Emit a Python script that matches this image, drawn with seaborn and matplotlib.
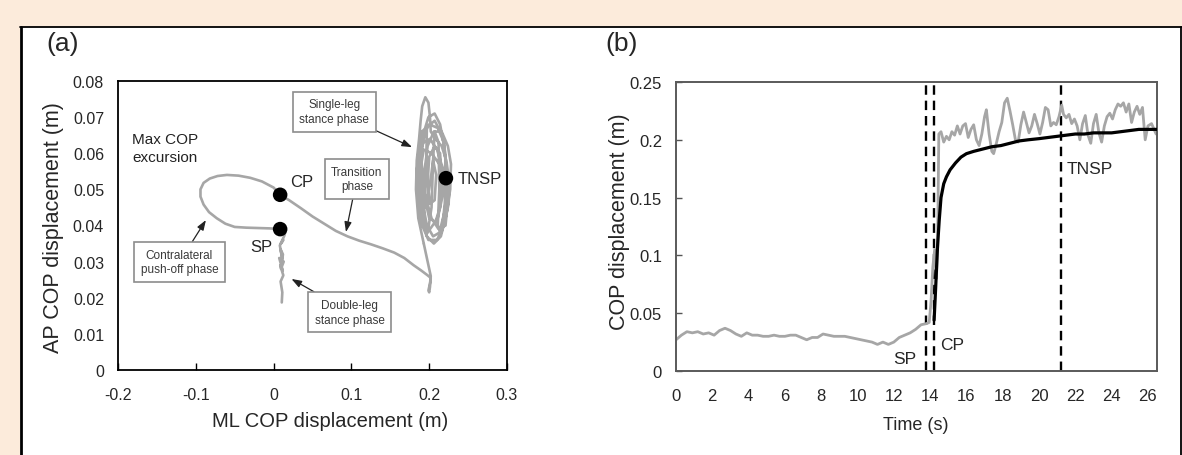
import matplotlib.pyplot as plt
import seaborn as sns
from matplotlib.lines import Line2D
from matplotlib.patches import Rectangle

W, H = 1182, 456
PEACH = "#fcebdb"
GRAY = "#a6a6a6"

# (a) COP path in the ML/AP plane, one array pair per phase
DOUBLE_ML = [0.0105, 0.0112, 0.0090, 0.0125, 0.0085, 0.0118, 0.0072, 0.0130, 0.0095,
             0.0120, 0.0088, 0.0110, 0.0080, 0.0125, 0.0092, 0.0138, 0.0150, 0.0120, 0.0084]
DOUBLE_AP = [0.0187, 0.0215, 0.0245, 0.0262, 0.0290, 0.0275, 0.0310, 0.0300, 0.0280,
             0.0320, 0.0335, 0.0310, 0.0345, 0.0360, 0.0350, 0.0372, 0.0382, 0.0378, 0.0390]

PUSH_ML = [0.0084, -0.005, -0.020, -0.035, -0.050, -0.062, -0.073, -0.083, -0.090, -0.094,
           -0.094, -0.090, -0.082, -0.072, -0.060, -0.045, -0.030, -0.015, 0.000, 0.0084]
PUSH_AP = [0.0390, 0.0392, 0.0393, 0.0394, 0.0396, 0.0405, 0.0420, 0.0437, 0.0458, 0.0480,
           0.0500, 0.0518, 0.0530, 0.0537, 0.0540, 0.0538, 0.0532, 0.0522, 0.0505, 0.0485]

TRANS_ML = [0.0084, 0.020, 0.035, 0.050, 0.065, 0.080, 0.095, 0.110, 0.125, 0.140, 0.155,
            0.168, 0.180, 0.190, 0.198, 0.202, 0.201, 0.199, 0.200, 0.201, 0.202, 0.199,
            0.196, 0.193]
TRANS_AP = [0.0485, 0.0470, 0.0448, 0.0425, 0.0405, 0.0385, 0.0370, 0.0358, 0.0348, 0.0337,
            0.0325, 0.0310, 0.0290, 0.0275, 0.0262, 0.0255, 0.0240, 0.0220, 0.0215, 0.0230,
            0.0260, 0.0290, 0.0320, 0.0350]

SINGLE_ML = [0.193, 0.186, 0.183, 0.184, 0.187, 0.189, 0.191, 0.195, 0.199, 0.201, 0.202,
             0.208, 0.216, 0.222, 0.226, 0.225, 0.219, 0.210, 0.199, 0.191, 0.185,
             0.184, 0.190, 0.197, 0.196, 0.193, 0.198, 0.203, 0.205, 0.207, 0.212, 0.213,
             0.211, 0.216, 0.220, 0.222, 0.219, 0.211, 0.200, 0.190, 0.186, 0.187, 0.192,
             0.201, 0.211, 0.218, 0.221, 0.217, 0.207, 0.196, 0.189, 0.188, 0.190, 0.197,
             0.206, 0.215, 0.222, 0.227, 0.228, 0.224, 0.216, 0.206, 0.198, 0.194, 0.195,
             0.200, 0.208, 0.214, 0.216, 0.214, 0.207, 0.200, 0.198, 0.201, 0.207, 0.209,
             0.205, 0.202, 0.196, 0.188, 0.184, 0.186, 0.193, 0.201, 0.210, 0.220, 0.224,
             0.221, 0.212, 0.203, 0.194, 0.190, 0.192, 0.199, 0.207, 0.214, 0.220, 0.223,
             0.220, 0.213, 0.205, 0.197, 0.191, 0.189, 0.193, 0.203, 0.213, 0.221]
SINGLE_AP = [0.035, 0.042, 0.050, 0.058, 0.064, 0.069, 0.073, 0.0755, 0.074, 0.070, 0.066,
             0.064, 0.062, 0.058, 0.052, 0.046, 0.040, 0.036, 0.036, 0.040, 0.047,
             0.055, 0.066, 0.067, 0.055, 0.043, 0.038, 0.045, 0.058, 0.066, 0.063, 0.050,
             0.040, 0.038, 0.046, 0.056, 0.063, 0.067, 0.068, 0.064, 0.057, 0.048, 0.041,
             0.039, 0.042, 0.049, 0.058, 0.065, 0.069, 0.067, 0.060, 0.051, 0.044, 0.037,
             0.035, 0.037, 0.043, 0.050, 0.057, 0.062, 0.066, 0.066, 0.062, 0.055, 0.047,
             0.042, 0.041, 0.045, 0.053, 0.060, 0.062, 0.059, 0.052, 0.046, 0.047, 0.054,
             0.058, 0.053, 0.045, 0.045, 0.052, 0.060, 0.063, 0.064, 0.061, 0.054, 0.047,
             0.040, 0.039, 0.042, 0.049, 0.058, 0.065, 0.070, 0.071, 0.068, 0.061, 0.052,
             0.044, 0.038, 0.037, 0.040, 0.047, 0.056, 0.061, 0.060, 0.057, 0.053]

EVENT_ML = [0.0084, 0.0084, 0.2215]
EVENT_AP = [0.0390, 0.0485, 0.0531]

# (b) COP displacement over time
RAW_T = [0, 0.3, 0.6, 0.9, 1.2, 1.5, 1.8, 2.1, 2.4, 2.7, 3.0, 3.3, 3.6, 3.9, 4.2, 4.5, 4.8,
         5.1, 5.4, 5.7, 6.0, 6.3, 6.6, 6.9, 7.2, 7.5, 7.8, 8.1, 8.4, 8.7, 9.0, 9.3, 9.6, 9.9,
         10.2, 10.5, 10.8, 11.1, 11.4, 11.7, 12.0, 12.3, 12.6, 12.9, 13.2, 13.5, 13.8, 13.95,
         14.05, 14.15, 14.25, 14.35, 14.42, 14.48, 14.6, 14.75, 14.9, 15.05, 15.2, 15.35,
         15.5, 15.65, 15.8, 15.95, 16.1, 16.25, 16.4, 16.55, 16.7, 16.85, 17.0, 17.1, 17.25,
         17.4, 17.5, 17.65, 17.8, 17.95, 18.1, 18.25, 18.4, 18.55, 18.7, 18.85, 19.0, 19.15,
         19.3, 19.45, 19.6, 19.75, 19.9, 20.05, 20.2, 20.35, 20.5, 20.65, 20.8, 20.95, 21.1,
         21.25, 21.35, 21.5, 21.65, 21.8, 21.95, 22.1, 22.25, 22.4, 22.55, 22.7, 22.85, 23.0,
         23.15, 23.3, 23.45, 23.6, 23.75, 23.9, 24.05, 24.2, 24.35, 24.5, 24.65, 24.8, 24.95,
         25.1, 25.25, 25.4, 25.55, 25.7, 25.85, 26.0, 26.2, 26.45]
RAW_COP = [0.027, 0.031, 0.034, 0.033, 0.034, 0.032, 0.033, 0.031, 0.035, 0.037, 0.035,
           0.032, 0.030, 0.033, 0.031, 0.031, 0.030, 0.030, 0.031, 0.030, 0.030, 0.031,
           0.031, 0.029, 0.027, 0.029, 0.029, 0.032, 0.031, 0.030, 0.030, 0.030, 0.029,
           0.028, 0.027, 0.026, 0.025, 0.023, 0.025, 0.023, 0.025, 0.029, 0.031, 0.033,
           0.036, 0.040, 0.041, 0.042, 0.060, 0.090, 0.105, 0.080, 0.120, 0.205, 0.207,
           0.198, 0.203, 0.200, 0.207, 0.204, 0.212, 0.205, 0.212, 0.214, 0.202, 0.209,
           0.213, 0.200, 0.195, 0.205, 0.220, 0.226, 0.205, 0.190, 0.188, 0.197, 0.207,
           0.215, 0.232, 0.236, 0.225, 0.213, 0.200, 0.198, 0.213, 0.224, 0.215, 0.206,
           0.212, 0.222, 0.214, 0.205, 0.215, 0.228, 0.226, 0.212, 0.215, 0.213, 0.220,
           0.230, 0.222, 0.219, 0.222, 0.214, 0.218, 0.212, 0.200, 0.214, 0.221, 0.204,
           0.197, 0.214, 0.222, 0.206, 0.198, 0.212, 0.220, 0.223, 0.218, 0.226, 0.231,
           0.229, 0.232, 0.224, 0.231, 0.215, 0.224, 0.229, 0.222, 0.228, 0.200, 0.212,
           0.214, 0.205]
MEAN_T = [14.22, 14.3, 14.4, 14.5, 14.6, 14.75, 14.9, 15.1, 15.4, 15.7, 16.0, 16.4, 16.9,
          17.4, 17.9, 18.4, 18.9, 19.4, 20.0, 20.5, 21.0, 21.5, 22.0, 22.5, 23.0, 23.5,
          24.0, 24.5, 25.0, 25.5, 26.0, 26.5]
MEAN_COP = [0.044, 0.070, 0.105, 0.130, 0.150, 0.162, 0.168, 0.174, 0.180, 0.185, 0.188,
            0.190, 0.192, 0.194, 0.195, 0.197, 0.199, 0.200, 0.201, 0.202, 0.203, 0.204,
            0.205, 0.205, 0.206, 0.206, 0.206, 0.207, 0.208, 0.209, 0.209, 0.209]
EVENT_T = [13.8, 14.22, 21.2]


def phase_box(ax, text, box_xy, tip_xy):
    ax.annotate(
        text, xy=tip_xy, xytext=box_xy, ha="center", va="center",
        fontsize=8.5, color="#3a3a3a", linespacing=1.3,
        bbox=dict(boxstyle="square,pad=0.55", fc="white", ec="#8c8c8c", lw=1.2),
        arrowprops=dict(arrowstyle="-|>,head_length=0.7,head_width=0.25",
                        color="#222222", lw=0.9, shrinkA=0, shrinkB=0),
    )


def main() -> None:
    sns.set_theme(style="white")
    plt.rcParams["font.family"] = ["Liberation Sans", "DejaVu Sans"]

    fig = plt.figure(figsize=(W / 100, H / 100), dpi=100, facecolor=PEACH)
    # white inner panel with black border (top/left/right)
    fig.add_artist(Rectangle((20 / W, 0), 1, (H - 28) / H, transform=fig.transFigure,
                             fc="white", ec="none", zorder=-5))
    fig.add_artist(Line2D([21 / W, 21 / W], [0, (H - 28) / H], transform=fig.transFigure,
                          color="black", lw=2))
    fig.add_artist(Line2D([20 / W, 1], [(H - 28) / H, (H - 28) / H],
                          transform=fig.transFigure, color="black", lw=1.3))
    fig.add_artist(Line2D([1180.5 / W, 1180.5 / W], [0, (H - 28) / H],
                          transform=fig.transFigure, color="black", lw=1.3))

    # ---------- (a) ----------
    ax1 = fig.add_axes([118 / W, (H - 371) / H, 389 / W, 289 / H])
    for xs, ys in [(DOUBLE_ML, DOUBLE_AP), (PUSH_ML, PUSH_AP),
                   (TRANS_ML, TRANS_AP), (SINGLE_ML, SINGLE_AP)]:
        sns.lineplot(x=xs, y=ys, sort=False, estimator=None, color=GRAY, lw=1.9, ax=ax1)
    sns.scatterplot(x=EVENT_ML, y=EVENT_AP, color="black", s=110, edgecolor="none",
                    zorder=5, ax=ax1)

    ax1.set_xlim(-0.2, 0.3)
    ax1.set_ylim(0, 0.08)
    ax1.set_xticks([-0.2, -0.1, 0, 0.1, 0.2, 0.3])
    ax1.set_xticklabels(["-0.2", "-0.1", "0", "0.1", "0.2", "0.3"])
    ax1.set_yticks([0, 0.01, 0.02, 0.03, 0.04, 0.05, 0.06, 0.07, 0.08])
    ax1.set_yticklabels(["0", "0.01", "0.02", "0.03", "0.04", "0.05", "0.06", "0.07", "0.08"])
    ax1.tick_params(axis="x", direction="in", length=5, width=1, color="black",
                    labelsize=11.5, pad=12, bottom=True)
    ax1.tick_params(axis="y", length=0, labelsize=11.5, pad=10)
    for sp in ax1.spines.values():
        sp.set_color("black")
        sp.set_linewidth(1.3)

    ax1.text(-0.182, 0.0615, "Max COP\nexcursion", fontsize=11, color="#222222",
             ha="left", va="center", linespacing=1.4)
    ax1.text(0.021, 0.0523, "CP", fontsize=12, ha="left", va="center")
    ax1.text(-0.016, 0.0343, "SP", fontsize=12, ha="center", va="center")
    ax1.text(0.237, 0.0531, "TNSP", fontsize=12, ha="left", va="center")

    phase_box(ax1, "Single-leg\nstance phase", (0.078, 0.0715), (0.178, 0.0617))
    phase_box(ax1, "Transition\nphase", (0.107, 0.0529), (0.093, 0.0382))
    phase_box(ax1, "Contralateral\npush-off phase", (-0.121, 0.0299), (-0.087, 0.0415))
    phase_box(ax1, "Double-leg\nstance phase", (0.098, 0.0160), (0.023, 0.0252))

    # ---------- (b) ----------
    ax2 = fig.add_axes([676 / W, (H - 372) / H, 481 / W, 289 / H])
    for t in EVENT_T:
        ax2.axvline(t, color="black", lw=1.7, ls=(0, (4, 2.5)), zorder=1)
    sns.lineplot(x=RAW_T, y=RAW_COP, sort=False, estimator=None, color=GRAY, lw=2.0,
                 ax=ax2, zorder=2)
    sns.lineplot(x=MEAN_T, y=MEAN_COP, sort=False, estimator=None, color="black", lw=2.3,
                 ax=ax2, zorder=3)

    ax2.set_xlim(0, 26.5)
    ax2.set_ylim(0, 0.25)
    ax2.set_xticks(list(range(0, 27, 2)))
    ax2.set_yticks([0, 0.05, 0.1, 0.15, 0.2, 0.25])
    ax2.set_yticklabels(["0", "0.05", "0.1", "0.15", "0.2", "0.25"])
    ax2.tick_params(axis="x", length=0, labelsize=12, pad=12)
    ax2.tick_params(axis="y", direction="in", length=4, width=1, color="#555555",
                    labelsize=12, pad=10, left=True)
    for sp in ax2.spines.values():
        sp.set_color("#5a5a5a")
        sp.set_linewidth(1.4)

    ax2.text(12.6, 0.011, "SP", fontsize=12.5, ha="center", va="center")
    ax2.text(15.2, 0.0225, "CP", fontsize=12.5, ha="center", va="center")
    ax2.text(21.5, 0.175, "TNSP", fontsize=12.5, ha="left", va="center")

    # panel tags and axis titles
    fig.text(63 / W, 1 - 44 / H, "(a)", fontsize=19, ha="center", va="center")
    fig.text(622 / W, 1 - 44 / H, "(b)", fontsize=19, ha="center", va="center")
    fig.text(54 / W, 1 - 228 / H, "AP COP displacement (m)", fontsize=15.5,
             rotation=90, ha="center", va="center")
    fig.text(330 / W, 1 - 422 / H, "ML COP displacement (m)", fontsize=14.5,
             ha="center", va="center")
    fig.text(619 / W, 1 - 222 / H, "COP displacement (m)", fontsize=15.5,
             rotation=90, ha="center", va="center")
    fig.text(916 / W, 1 - 426 / H, "Time (s)", fontsize=13, ha="center", va="center")

    fig.savefig("out.png", dpi=100, facecolor=PEACH)


if __name__ == "__main__":
    main()
